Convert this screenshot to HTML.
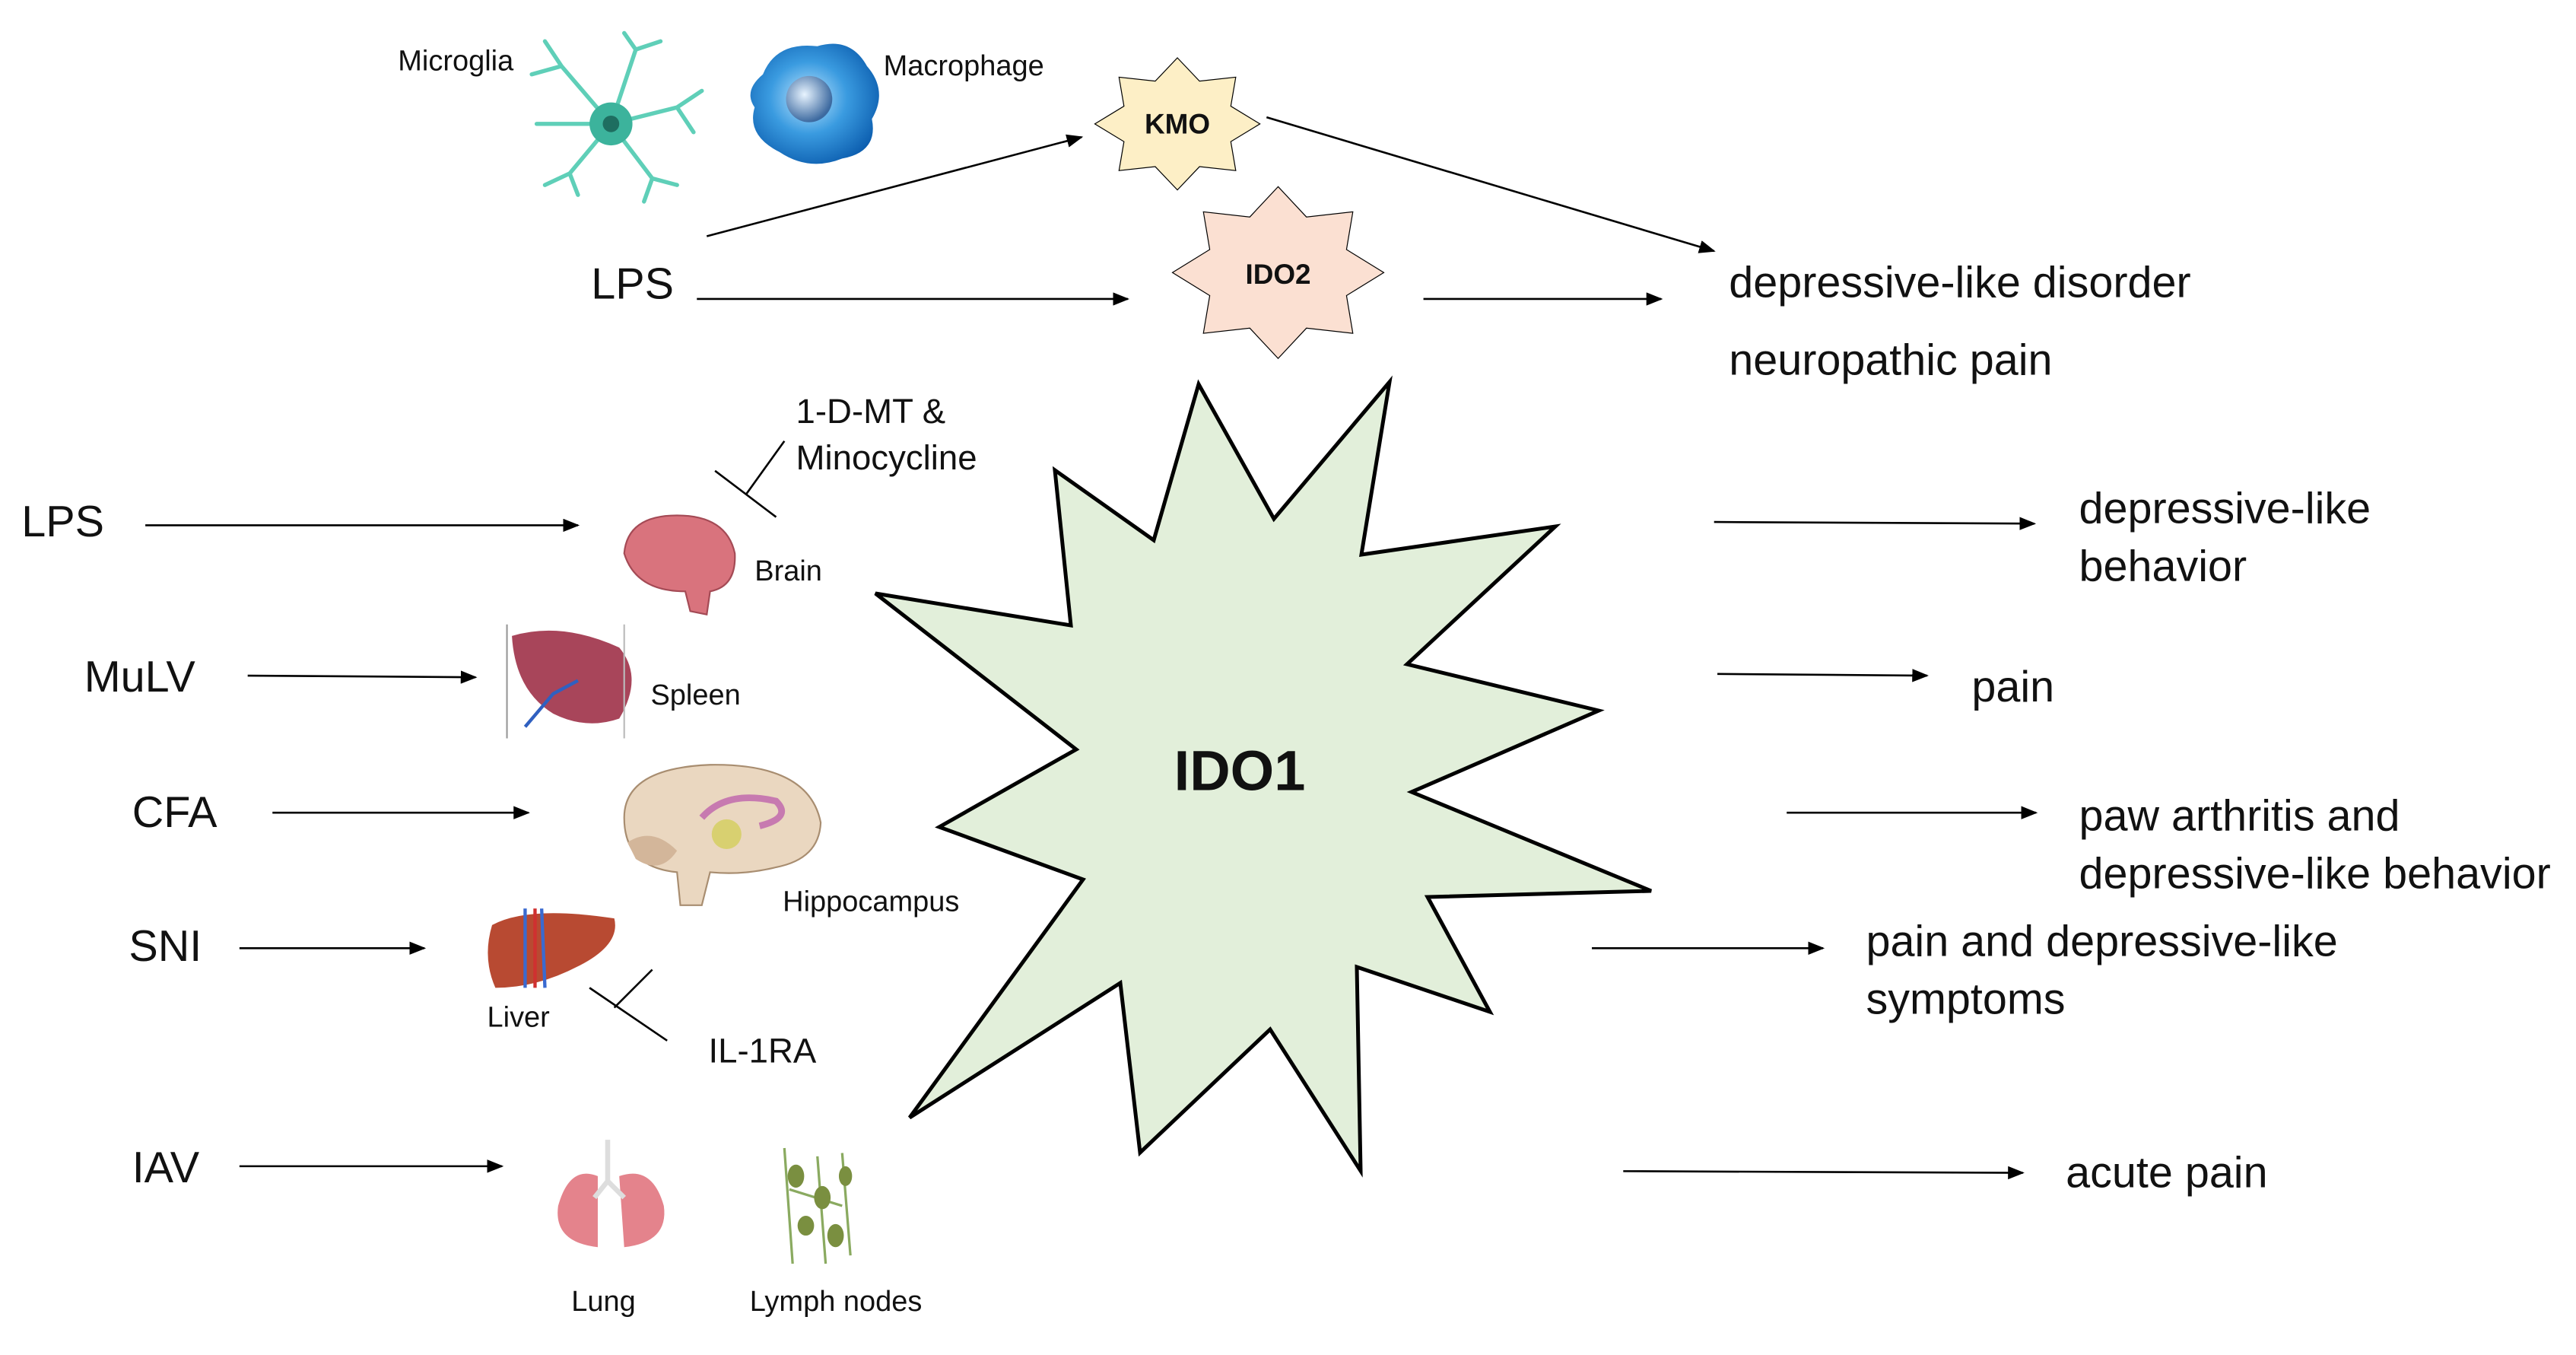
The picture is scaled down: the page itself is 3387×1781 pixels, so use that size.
<!DOCTYPE html>
<html><head><meta charset="utf-8"><style>
html,body{margin:0;padding:0;background:#fff;width:3387px;height:1781px;overflow:hidden}
svg{display:block}
text{font-family:"Liberation Sans","DejaVu Sans",sans-serif;fill:#111}
</style></head><body>
<svg width="3387" height="1781" viewBox="0 0 3387 1781" xmlns="http://www.w3.org/2000/svg">
<defs>
<marker id="ah" markerWidth="10" markerHeight="8" refX="9" refY="4" orient="auto" markerUnits="userSpaceOnUse">
<path d="M0,0 L10,4 L0,8 z" fill="#000"/></marker>
<radialGradient id="mg" cx="0.45" cy="0.45" r="0.6"><stop offset="0" stop-color="#bfe6ff"/><stop offset="0.5" stop-color="#3a9be0"/><stop offset="1" stop-color="#0d5fb0"/></radialGradient>
<radialGradient id="mc" cx="0.4" cy="0.4" r="0.6"><stop offset="0" stop-color="#e8f4ff"/><stop offset="1" stop-color="#3d6aa0"/></radialGradient>
</defs>

<polygon points="1576,505 1675,682 1827,502 1790,729 2045,692 1850,873 2102,934 1856,1041 2171,1171 1877,1179 1959,1330 1784,1271 1789,1539 1670,1353 1499,1515 1473,1292 1196,1469 1424,1156 1235,1087 1415,985 1151,780 1408,822 1387,618 1517,710" fill="#e2efda" stroke="#000" stroke-width="5" stroke-linejoin="miter"/>
<text x="1630" y="1013" font-size="74" font-weight="bold" text-anchor="middle" dominant-baseline="central">IDO1</text>

<g transform="scale(2.1712)">
<g stroke="#000" stroke-width="1.2" fill="none" marker-end="url(#ah)">
<line x1="428" y1="143" x2="655" y2="83"/>
<line x1="422" y1="181" x2="683" y2="181"/>
<line x1="862" y1="181" x2="1006" y2="181"/>
<line x1="767" y1="71" x2="1038" y2="152"/>
<line x1="88" y1="318" x2="350" y2="318"/>
<line x1="150" y1="409" x2="288" y2="410"/>
<line x1="165" y1="492" x2="320" y2="492"/>
<line x1="145" y1="574" x2="257" y2="574"/>
<line x1="145" y1="706" x2="304" y2="706"/>
<line x1="1038" y1="316" x2="1232" y2="317"/>
<line x1="1040" y1="408" x2="1167" y2="409"/>
<line x1="1082" y1="492" x2="1233" y2="492"/>
<line x1="964" y1="574" x2="1104" y2="574"/>
<line x1="983" y1="709" x2="1225" y2="710"/>
</g>
<g stroke="#000" stroke-width="1.2">
<line x1="433" y1="285" x2="470" y2="313"/><line x1="452" y1="299" x2="475" y2="267"/>
<line x1="357" y1="598" x2="404" y2="630"/><line x1="372" y1="610" x2="395" y2="587"/>
</g>

<polygon points="0,-1 .268,-.647 .707,-.707 .647,-.268 1,0 .647,.268 .707,.707 .268,.647 0,1 -.268,.647 -.707,.707 -.647,.268 -1,0 -.647,-.268 -.707,-.707 -.268,-.647" transform="translate(713,75) scale(50,40)" fill="#fdefc6" stroke="#000" stroke-width="1.2" vector-effect="non-scaling-stroke"/>
<polygon points="0,-1 .268,-.647 .707,-.707 .647,-.268 1,0 .647,.268 .707,.707 .268,.647 0,1 -.268,.647 -.707,.707 -.647,.268 -1,0 -.647,-.268 -.707,-.707 -.268,-.647" transform="translate(774,165) scale(64,52)" fill="#fbe0d2" stroke="#000" stroke-width="1.2" vector-effect="non-scaling-stroke"/>
<text x="713" y="75" font-size="17" font-weight="bold" text-anchor="middle" dominant-baseline="central">KMO</text>
<text x="774" y="166" font-size="17" font-weight="bold" text-anchor="middle" dominant-baseline="central">IDO2</text>

<g stroke="#5fcfb8" stroke-width="2.5" fill="none" stroke-linecap="round">
<path d="M370,75 L340,40 L330,25 M340,40 L322,45 M370,75 L325,75 M370,75 L345,105 L330,112 M345,105 L350,118 M370,75 L385,30 L378,20 M385,30 L400,25 M370,75 L410,65 L425,55 M410,65 L420,80 M370,75 L395,108 L410,112 M395,108 L390,122"/>
</g>
<circle cx="370" cy="75" r="13" fill="#3cb39c"/><circle cx="370" cy="75" r="5" fill="#1e6e60"/>
<path d="M462,45 Q470,25 495,28 Q515,22 525,40 Q538,55 528,72 Q532,92 510,96 Q490,104 472,92 Q452,82 457,65 Q450,55 462,45z" fill="url(#mg)"/>
<circle cx="490" cy="60" r="14" fill="url(#mc)"/>

<path d="M378,335 Q380,312 410,312 Q440,312 445,335 Q446,355 430,358 L428,372 L418,370 L415,358 Q385,358 378,335z" fill="#d9737d" stroke="#a44a55" stroke-width="1"/>
<path d="M310,385 Q340,376 375,392 Q390,410 375,435 Q355,442 335,432 Q312,418 310,385z" fill="#a8455a"/>
<path d="M318,440 L335,420 L350,412" stroke="#3060c0" stroke-width="2" fill="none"/>
<line x1="307" y1="378" x2="307" y2="447" stroke="#999"/><line x1="378" y1="378" x2="378" y2="447" stroke="#bbb"/>
<path d="M378,495 Q378,465 430,463 Q490,462 497,498 Q496,520 470,525 Q450,530 430,528 L425,548 L412,548 L410,528 Q378,525 378,495z" fill="#ead7c0" stroke="#a88d70" stroke-width="1"/>
<path d="M425,495 Q440,478 470,485 Q480,495 460,500" stroke="#c77ab0" stroke-width="4" fill="none"/>
<circle cx="440" cy="505" r="9" fill="#d8d070"/>
<path d="M380,510 Q395,500 410,515 Q400,530 385,520z" fill="#d3b69a"/>
<path d="M298,560 Q320,548 372,556 Q376,572 350,585 Q325,598 300,598 Q292,580 298,560z" fill="#b84a32"/>
<path d="M318,550 L318,598 M328,550 L330,598" stroke="#3a6ad0" stroke-width="2"/>
<path d="M324,550 L324,598" stroke="#d03030" stroke-width="2"/>
<path d="M362,712 Q345,705 338,730 Q335,752 362,755 Z" fill="#e4838c"/>
<path d="M375,712 Q395,705 402,730 Q405,752 378,755 Z" fill="#e4838c"/>
<path d="M368,690 L368,715 L360,725 M368,715 L378,725" stroke="#ddd" stroke-width="3" fill="none"/>
<g stroke="#8aaa60" stroke-width="1.5" fill="none"><path d="M475,695 L480,765 M495,700 L500,765 M510,698 L515,760 M478,720 L510,730"/></g>
<g fill="#7a8f40"><ellipse cx="482" cy="712" rx="5" ry="7"/><ellipse cx="498" cy="725" rx="5" ry="7"/><ellipse cx="488" cy="742" rx="5" ry="6"/><ellipse cx="506" cy="748" rx="5" ry="7"/><ellipse cx="512" cy="712" rx="4" ry="6"/></g>

<g font-size="17.5" dominant-baseline="central">
<text x="241" y="37">Microglia</text>
<text x="535" y="40">Macrophage</text>
<text x="457" y="346">Brain</text>
<text x="394" y="421">Spleen</text>
<text x="474" y="546">Hippocampus</text>
<text x="295" y="616">Liver</text>
<text x="346" y="788">Lung</text>
<text x="454" y="788">Lymph nodes</text>
</g>
<g font-size="21" dominant-baseline="central">
<text x="482" y="249">1-D-MT &amp;</text>
<text x="482" y="277">Minocycline</text>
<text x="429" y="636">IL-1RA</text>
</g>
<g font-size="26.5" dominant-baseline="central">
<text x="358" y="172">LPS</text>
<text x="1047" y="171">depressive-like disorder</text>
<text x="1047" y="218">neuropathic pain</text>
<text x="13" y="316">LPS</text>
<text x="51" y="410">MuLV</text>
<text x="80" y="492">CFA</text>
<text x="78" y="573">SNI</text>
<text x="80" y="707">IAV</text>
<text x="1259" y="308">depressive-like</text>
<text x="1259" y="343">behavior</text>
<text x="1194" y="416">pain</text>
<text x="1259" y="494">paw arthritis and</text>
<text x="1259" y="529">depressive-like behavior</text>
<text x="1130" y="570">pain and depressive-like</text>
<text x="1130" y="605">symptoms</text>
<text x="1251" y="710">acute pain</text>
</g>
</g>
</svg>
</body></html>
